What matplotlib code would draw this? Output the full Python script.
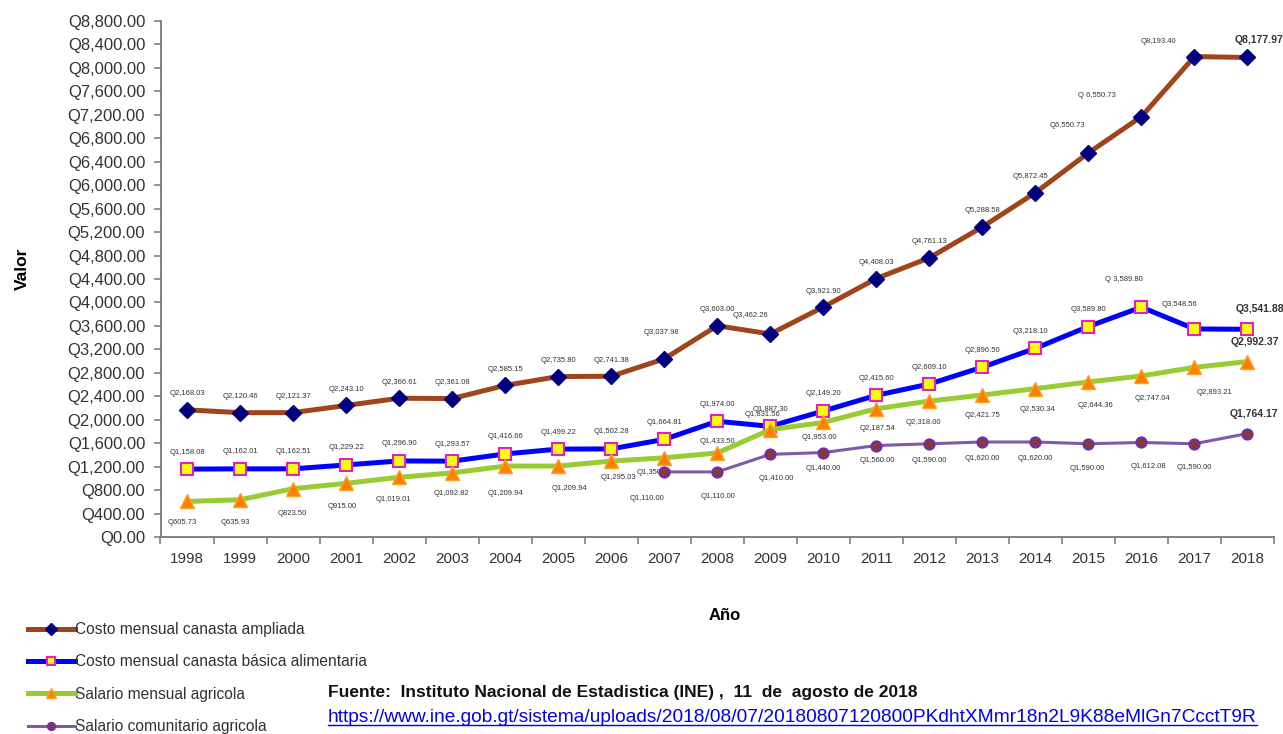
import matplotlib
matplotlib.use("Agg")
import matplotlib.pyplot as plt
from matplotlib.lines import Line2D

years = list(range(1998, 2019))

canasta_ampliada = [2168.03, 2120.46, 2121.37, 2243.10, 2366.61, 2361.08, 2585.15,
                    2735.80, 2741.38, 3037.98, 3603.00, 3462.26, 3921.90, 4408.03,
                    4761.13, 5288.58, 5872.45, 6550.73, 7170.00, 8193.40, 8177.97]
canasta_basica = [1158.08, 1162.01, 1162.51, 1229.22, 1296.90, 1293.57, 1416.66,
                  1499.22, 1502.28, 1664.81, 1974.00, 1887.30, 2149.20, 2415.60,
                  2609.10, 2896.50, 3218.10, 3589.80, 3920.00, 3548.56, 3541.88]
salario_agricola = [605.73, 635.93, 823.50, 915.00, 1019.01, 1092.82, 1209.94,
                    1209.94, 1295.03, 1350.00, 1433.50, 1831.56, 1953.00, 2187.54,
                    2318.00, 2421.75, 2530.34, 2644.36, 2747.04, 2893.21, 2992.37]
years_comunitario = list(range(2007, 2019))
salario_comunitario = [1110.00, 1110.00, 1410.00, 1440.00, 1560.00, 1590.00,
                       1620.00, 1620.00, 1590.00, 1612.08, 1590.00, 1764.17]

# printed label text that differs from the plotted value
label_overrides_ampliada = {2016: "Q 6,550.73"}
label_overrides_basica = {2016: "Q 3,589.80"}

y_ticks = list(range(0, 8801, 400))
y_ticklabels = [f"Q{v:,.2f}" for v in y_ticks]

legend_labels = ["Costo mensual canasta ampliada",
                 "Costo mensual canasta básica alimentaria",
                 "Salario mensual agricola",
                 "Salario comunitario agricola"]

source_text = "Fuente:  Instituto Nacional de Estadistica (INE) ,  11  de  agosto de 2018"
url_text = "https://www.ine.gob.gt/sistema/uploads/2018/08/07/20180807120800PKdhtXMmr18n2L9K88eMlGn7CcctT9R"

# ---------------------------------------------------------------------------
plt.rcParams["font.family"] = ["Liberation Sans", "DejaVu Sans"]

fig = plt.figure(figsize=(12.83, 7.34), dpi=100)
ax = fig.add_axes([160.5 / 1283, 1 - 537 / 734, (1274 - 160.5) / 1283, (537 - 21) / 734])

l1, = ax.plot(years, canasta_ampliada, color="#A0451B", lw=3.6, marker="D", ms=8.5,
              mfc="#000080", mec="#000080", zorder=3)
l2, = ax.plot(years, canasta_basica, color="#0000FF", lw=3.6, marker="s", ms=9,
              mfc="#FFFF00", mec="#E020C0", mew=1.5, zorder=3)
l3, = ax.plot(years, salario_agricola, color="#99CC33", lw=3.6, marker="^", ms=9.5,
              mfc="#FF8000", mec="#FFA020", mew=1, zorder=3)
l4, = ax.plot(years_comunitario, salario_comunitario, color="#7E5BA6", lw=2.2, marker="o",
              ms=7, mfc="#8B3A2A", mec="#7030A0", mew=1.8, zorder=4)

ax.set_xlim(1997.5, 2018.5)
ax.set_ylim(0, 8800)
ax.set_yticks(y_ticks)
ax.set_yticklabels(y_ticklabels)
ax.set_xticks(years)
ax.set_xticklabels([str(y) for y in years])
ax.set_xticks([y + 0.5 for y in [1997] + years], minor=True)

axis_col = "#808080"
for s in ["top", "right"]:
    ax.spines[s].set_visible(False)
for s in ["left", "bottom"]:
    ax.spines[s].set_color(axis_col)
    ax.spines[s].set_linewidth(1.4)
ax.tick_params(axis="y", length=5, width=1.2, color=axis_col, pad=6,
               labelsize=12, labelcolor="#333333")
ax.tick_params(axis="x", which="major", length=0, pad=11, labelsize=11, labelcolor="#333333")
ax.tick_params(axis="x", which="minor", length=5, width=1.2, color=axis_col)

ax.set_ylabel("Valor", fontsize=12.5, fontweight="bold")
ax.yaxis.set_label_coords(-0.1175, 0.52)
fig.text(725 / 1283, 1 - 616 / 734, "Año", fontsize=12, fontweight="bold",
         ha="center", va="center")

# data labels ---------------------------------------------------------------
small = dict(fontsize=5.5, color="#333333", ha="center", va="center",
             textcoords="offset pixels", zorder=3.5)
big = dict(fontsize=7.5, color="#333333", ha="center", va="center", fontweight="bold",
           textcoords="offset pixels", zorder=5)

off_ampliada = {2007: (-3, 26), 2009: (-20, 18), 2014: (-5, 16), 2015: (-21, 27),
                2016: (-45, 21), 2017: (-36, 15)}
off_basica = {2014: (-5, 17), 2016: (-18, 28), 2017: (-15, 24)}
off_agricola = {1998: (-5, -21), 1999: (-5, -23), 2000: (-1, -25), 2001: (-4, -23),
                2002: (-6, -22), 2003: (-1, -21), 2004: (0, -27), 2005: (11, -22),
                2006: (7, -16), 2007: (-10, -15), 2008: (0, 11), 2009: (-8, 15),
                2010: (-4, -15), 2011: (1, -20), 2012: (-6, -21), 2013: (0, -21),
                2014: (2, -21), 2015: (7, -24), 2016: (11, -23), 2017: (20, -25)}
off_comunitario = {2007: (-17, -27), 2008: (1, -25), 2009: (6, -24), 2010: (0, -16),
                   2011: (1, -15), 2012: (0, -17), 2013: (0, -16), 2014: (0, -16),
                   2015: (-1, -25), 2016: (7, -24), 2017: (0, -24)}


def add_labels(xs, vals, default_off, offs, overrides, last_off):
    for i, (x, v) in enumerate(zip(xs, vals)):
        txt = overrides.get(x, f"Q{v:,.2f}")
        if i == len(xs) - 1:
            ax.annotate(txt, (x, v), xytext=last_off, **big)
        else:
            ax.annotate(txt, (x, v), xytext=offs.get(x, default_off), **small)


add_labels(years, canasta_ampliada, (0, 16), off_ampliada, label_overrides_ampliada, (12, 17))
add_labels(years, canasta_basica, (0, 17), off_basica, label_overrides_basica, (12, 20))
add_labels(years, salario_agricola, (0, -22), off_agricola, {}, (7, 20))
add_labels(years_comunitario, salario_comunitario, (0, -20), off_comunitario, {}, (6, 20))

# legend ------------------------------------------------------------------
leg = fig.legend([l1, l2, l3, l4], legend_labels, loc="upper left",
                 bbox_to_anchor=(28 / 1283, 1 - 622 / 734), frameon=False,
                 prop={"size": 11.2}, handlelength=3.0, handletextpad=0.05,
                 labelspacing=1.12, borderpad=0, borderaxespad=0, markerscale=0.7)
for t in leg.get_texts():
    t.set_color("#333333")

# source --------------------------------------------------------------------
fig.text(328 / 1283, 1 - 692 / 734, source_text, fontsize=12.5, fontweight="bold",
         ha="left", va="center", color="#111111")
url = fig.text(328 / 1283, 1 - 718 / 734, url_text, fontsize=13.8,
               ha="left", va="center", color="#0000EE")
fig.canvas.draw()
bb = url.get_window_extent(fig.canvas.get_renderer())
uy = (bb.y0 + 2) / fig.bbox.height
fig.add_artist(Line2D([bb.x0 / fig.bbox.width, bb.x1 / fig.bbox.width], [uy, uy],
                      transform=fig.transFigure, color="#0000EE", lw=1))

fig.savefig("out.png", dpi=100)
